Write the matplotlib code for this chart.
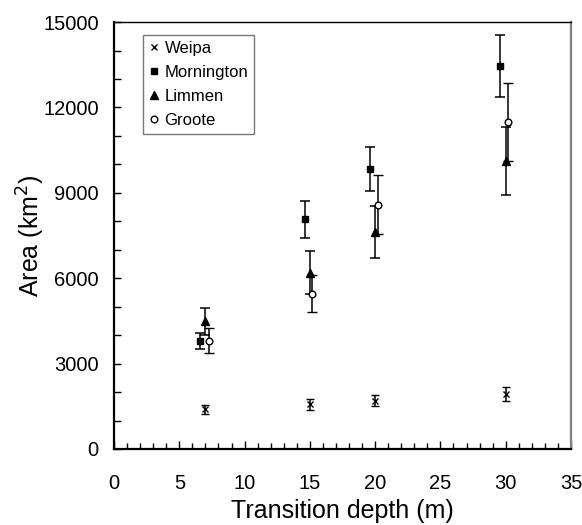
import matplotlib
matplotlib.use("Agg")
import matplotlib.pyplot as plt
from matplotlib.ticker import MultipleLocator
from matplotlib.lines import Line2D

plt.rcParams['font.family'] = ['Liberation Sans', 'DejaVu Sans']

# Data
weipa_x = [7.0, 15.0, 20.0, 30.0]
weipa_y = [1400, 1570, 1700, 1930]
weipa_err = [160, 190, 200, 250]

morn_x = [6.6, 14.6, 19.6, 29.6]
morn_y = [3800, 8070, 9840, 13460]
morn_err = [290, 650, 770, 1080]

limmen_x = [7.0, 15.0, 20.0, 30.0]
limmen_y = [4480, 6200, 7630, 10120]
limmen_err = [470, 740, 910, 1210]

groote_x = [7.25, 15.2, 20.2, 30.2]
groote_y = [3800, 5450, 8580, 11480]
groote_err = [445, 650, 1035, 1370]

fig = plt.figure(figsize=(5.82, 5.25), dpi=100)
ax = fig.add_axes([0.196, 0.1448, 0.785, 0.8132])

ekw = dict(ecolor='black', elinewidth=1.1, capthick=1.1, linestyle='none', color='black')
ax.errorbar(weipa_x, weipa_y, yerr=weipa_err, marker='x', markersize=4.5, mew=1.0, capsize=3, **ekw)
ax.errorbar(morn_x, morn_y, yerr=morn_err, marker='s', markersize=5, capsize=3.5, **ekw)
ax.errorbar(limmen_x, limmen_y, yerr=limmen_err, marker='^', markersize=6, capsize=3.5, **ekw)
ax.errorbar(groote_x, groote_y, yerr=groote_err, marker='o', markersize=4.8, mfc='white', mew=1.0, capsize=3.5, **ekw)

ax.set_xlim(0, 35)
ax.set_ylim(0, 15000)
ax.xaxis.set_major_locator(MultipleLocator(5))
ax.xaxis.set_minor_locator(MultipleLocator(1))
ax.yaxis.set_major_locator(MultipleLocator(3000))
ax.yaxis.set_minor_locator(MultipleLocator(1000))
ax.tick_params(axis='x', which='major', direction='in', length=6, width=1, labelsize=14.5, pad=18)
ax.tick_params(axis='x', which='minor', direction='in', length=4, width=1)
ax.tick_params(axis='y', which='major', direction='in', length=5, width=1, labelsize=14.5, pad=11)
ax.tick_params(axis='y', which='minor', direction='in', length=5, width=1)

ax.spines['left'].set_linewidth(1.6)
ax.spines['bottom'].set_linewidth(1.6)
ax.spines['top'].set_linewidth(1.0)
ax.spines['right'].set_linewidth(1.6)
ax.spines['right'].set_color('#808080')

ax.set_xlabel('Transition depth (m)', fontsize=18, labelpad=4)
ax.set_ylabel('Area (km$^2$)', fontsize=18, labelpad=-3)

handles = [
    Line2D([], [], color='black', marker='x', markersize=4.5, mew=1.0, linestyle='none'),
    Line2D([], [], color='black', marker='s', markersize=5, linestyle='none'),
    Line2D([], [], color='black', marker='^', markersize=6, linestyle='none'),
    Line2D([], [], color='black', marker='o', markersize=4.8, mfc='white', mew=1.0, linestyle='none'),
]
labels = ['Weipa', 'Mornington', 'Limmen', 'Groote']
leg = ax.legend(handles, labels, loc='upper left', bbox_to_anchor=(0.063, 0.97), fontsize=12,
                frameon=True, fancybox=False, edgecolor='#555555', borderpad=0.35,
                labelspacing=0.55, handlelength=0.6, handletextpad=0.35, borderaxespad=0)
leg.get_frame().set_linewidth(1.0)

fig.savefig('out.png', dpi=100)
